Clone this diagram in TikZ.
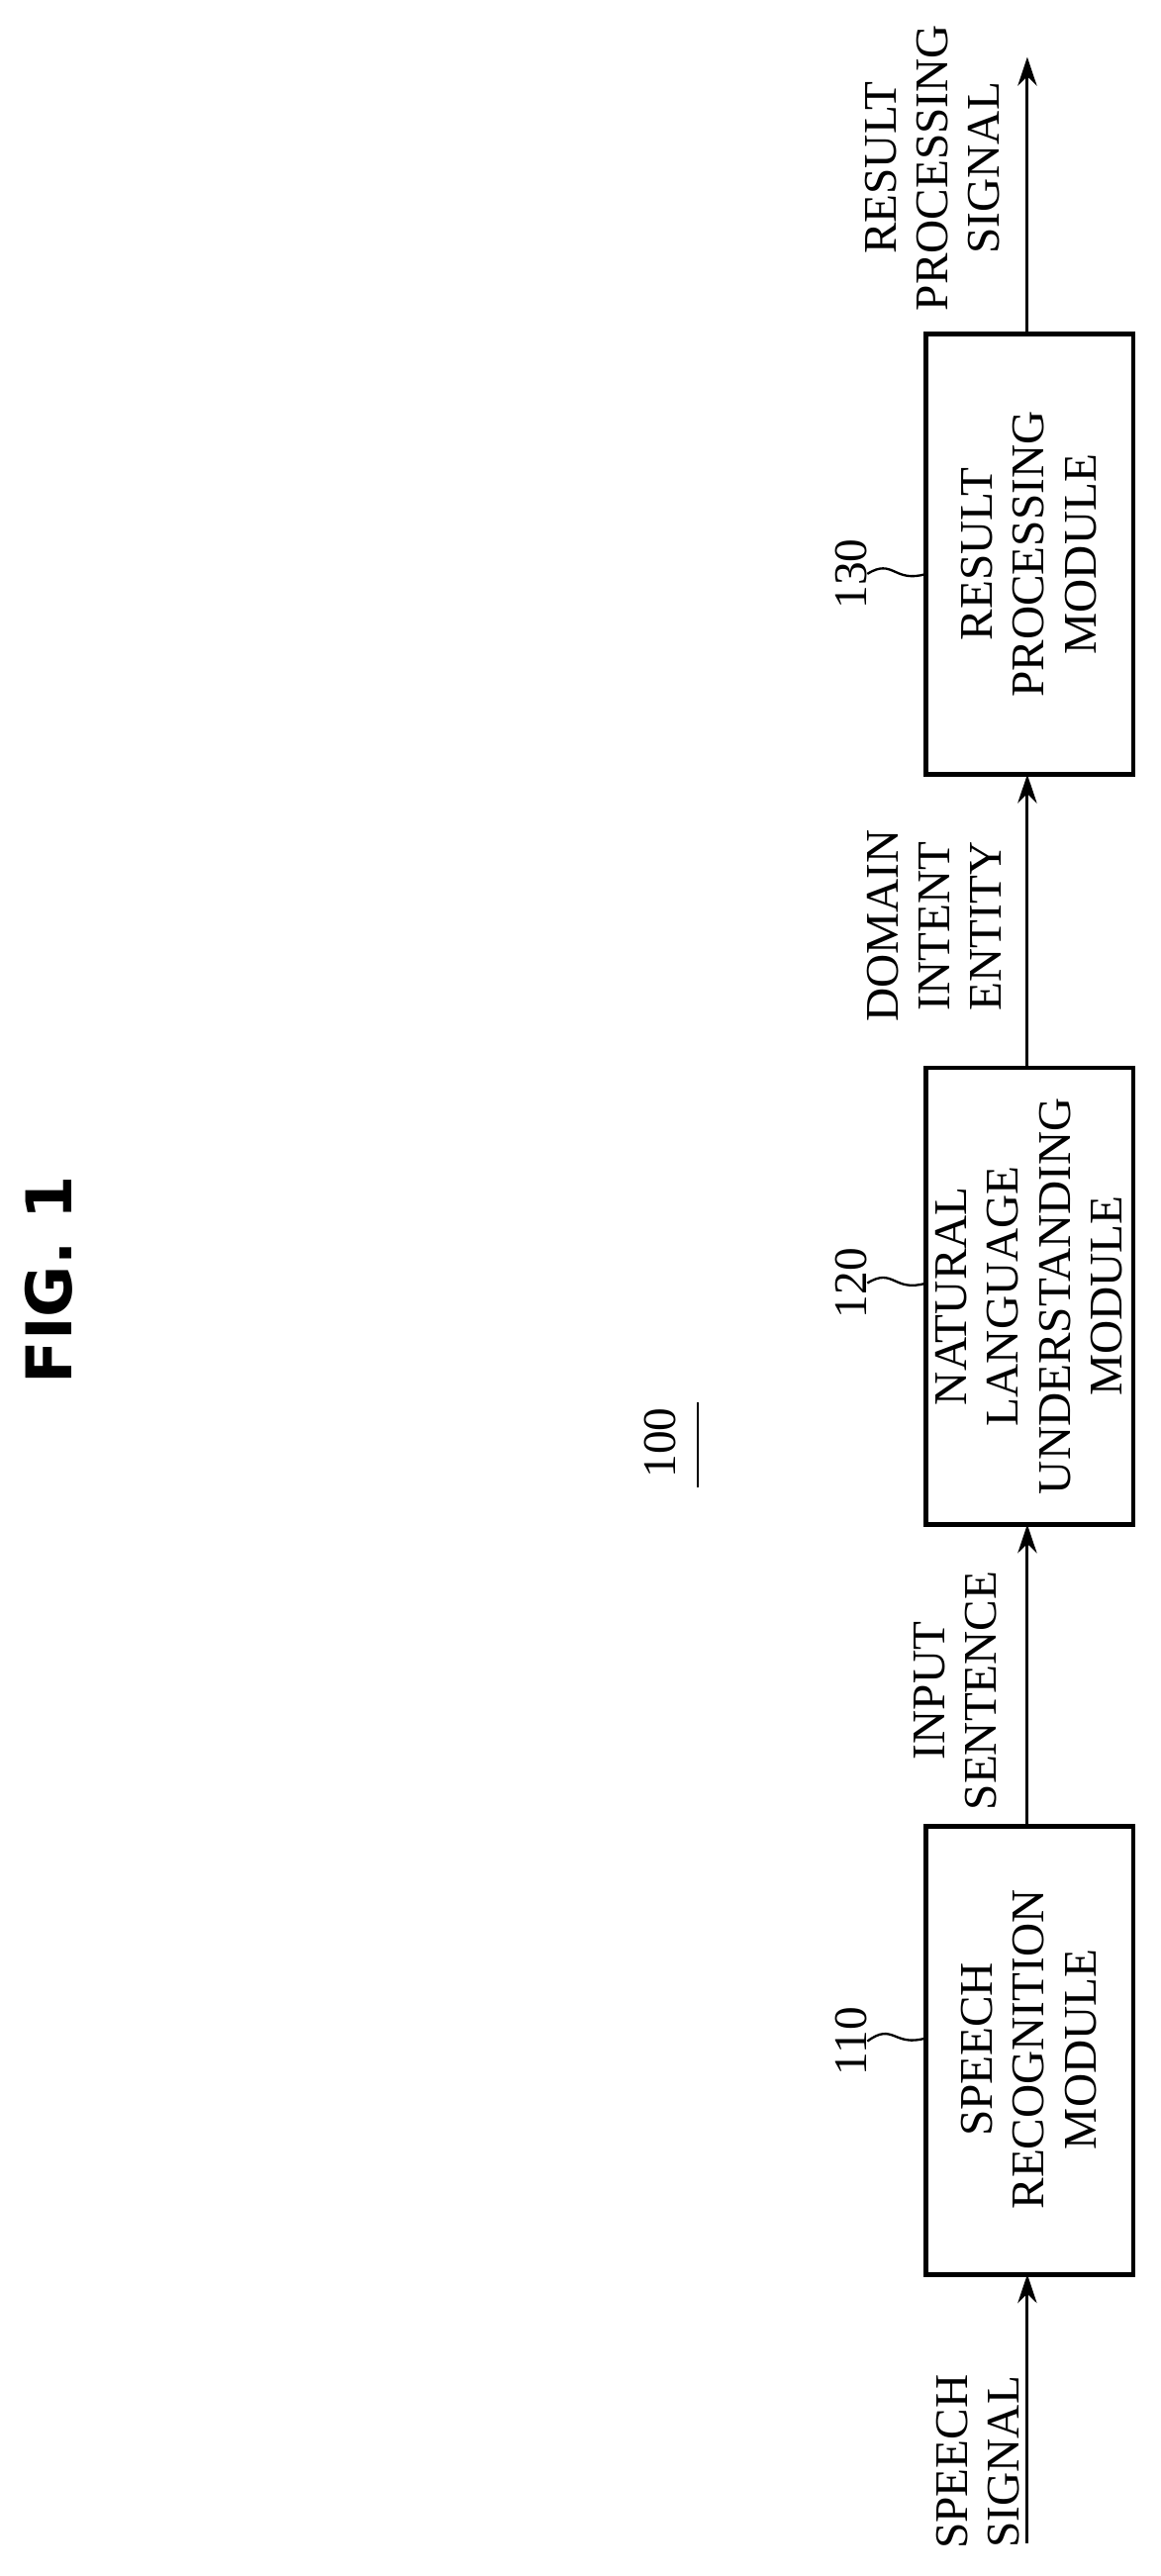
\documentclass[tikz,border=0pt]{standalone}
\usepackage{fontspec}
\setmainfont{Liberation Serif}
\newfontfamily\figfont{DejaVu Sans}
\usetikzlibrary{arrows.meta}
\begin{document}
\begin{tikzpicture}[x=0.03cm,y=-0.03cm,
  box/.style={draw,line width=2.4pt},
  txt/.style={rotate=90,align=center,font=\fontsize{24.5}{27}\selectfont,inner sep=0pt},
  arr/.style={line width=1.6pt,-{Stealth[length=15pt,width=10pt]}},
  tl/.style={line width=1.2pt}]
\useasboundingbox (0,0) rectangle (712,1580);
\node[rotate=90,font=\figfont\bfseries\fontsize{33}{36}\selectfont,inner sep=0pt] (fig) at (30,785) {FIG. 1};
\node[txt] (sys) at (405,885) {100};
\draw[line width=1.4pt] (428,860) -- (428,912);
% boxes
\draw[box] (568,1120) rectangle (695,1395);
\draw[box] (568,655) rectangle (695,935);
\draw[box] (568,205) rectangle (695,475);
\node[txt] (b1) at (631,1257) {SPEECH\\RECOGNITION\\MODULE};
\node[txt] (b2) at (631,795) {NATURAL\\LANGUAGE\\UNDERSTANDING\\MODULE};
\node[txt] (b3) at (631,340) {RESULT\\PROCESSING\\MODULE};
\coordinate (in) at (630,1560);
\coordinate (b1b) at (630,1395);
\coordinate (b1t) at (630,1120);
\coordinate (b2b) at (630,935);
\coordinate (b2t) at (630,655);
\coordinate (b3b) at (630,475);
\coordinate (b3t) at (630,205);
\coordinate (out) at (630,35);
\draw[arr] (in) -- (b1b);
\draw[arr] (b1t) -- (b2b);
\draw[arr] (b2t) -- (b3b);
\draw[arr] (b3t) -- (out);
\node[txt] (l1) at (600,1510) {SPEECH\\SIGNAL};
\node[txt] (l2) at (586,1037) {INPUT\\SENTENCE};
\node[txt] (l3) at (573,568) {DOMAIN\\INTENT\\ENTITY};
\node[txt] (l4) at (572,103) {RESULT\\PROCESSING\\SIGNAL};
% reference numerals
\node[txt] (r1) at (522,1252) {110};
\node[txt] (r2) at (522,787) {120};
\node[txt] (r3) at (522,352) {130};
\draw[tl] (r1.south) .. controls (548,1240) and (548,1256) .. (568,1250);
\draw[tl] (r2.south) .. controls (548,777) and (548,793) .. (568,787);
\draw[tl] (r3.south) .. controls (548,342) and (548,358) .. (568,352);
\end{tikzpicture}
\end{document}
